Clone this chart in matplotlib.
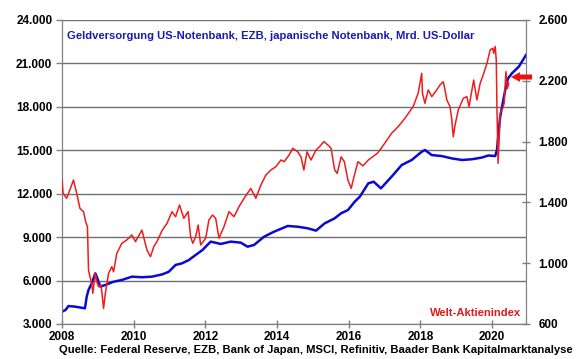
import matplotlib
matplotlib.use("Agg")
import matplotlib.pyplot as plt
from matplotlib.ticker import FuncFormatter

# Geldversorgung (Mrd. US-Dollar), linke Achse
money_x = [2008.0, 2008.1, 2008.18, 2008.36, 2008.64, 2008.69, 2008.74, 2008.83, 2008.93,
           2008.97, 2009.07, 2009.2, 2009.44, 2009.67, 2009.95, 2010.23, 2010.51, 2010.8,
           2010.98, 2011.17, 2011.35, 2011.54, 2011.73, 2011.92, 2012.15, 2012.43, 2012.71,
           2012.99, 2013.18, 2013.36, 2013.64, 2013.92, 2014.3, 2014.58, 2014.86, 2015.09,
           2015.33, 2015.61, 2015.79, 2015.98, 2016.17, 2016.31, 2016.55, 2016.7, 2016.9,
           2017.2, 2017.48, 2017.76, 2018.04, 2018.13, 2018.32, 2018.6, 2018.88, 2019.16,
           2019.44, 2019.72, 2019.9, 2020.09, 2020.14, 2020.19, 2020.23, 2020.3, 2020.37,
           2020.45, 2020.56, 2020.75, 2020.95]
money_y = [3850, 3970, 4240, 4200, 4085, 4890, 5350, 5810, 6500,
           6270, 5580, 5690, 5920, 6040, 6270, 6230, 6270, 6430,
           6610, 7080, 7190, 7420, 7770, 8110, 8690, 8530, 8690,
           8620, 8340, 8460, 9030, 9380, 9770, 9720, 9610, 9450,
           9950, 10300, 10650, 10870, 11450, 11790, 12720, 12830, 12370,
           13180, 13980, 14330, 14900, 15020, 14670, 14600, 14440, 14330,
           14380, 14500, 14640, 14600, 15020, 16400, 17320, 18240, 19160,
           19970, 20320, 20780, 21580]

# Welt-Aktienindex, rechte Achse
stock_x = [2008.0, 2008.03, 2008.13, 2008.22, 2008.32, 2008.41, 2008.5, 2008.6, 2008.66,
           2008.71, 2008.74, 2008.78, 2008.83, 2008.86, 2008.93, 2008.97, 2009.02, 2009.09,
           2009.16, 2009.21, 2009.3, 2009.39, 2009.44, 2009.53, 2009.67, 2009.81, 2009.95,
           2010.05, 2010.23, 2010.37, 2010.47, 2010.56, 2010.65, 2010.8, 2010.93, 2011.07,
           2011.17, 2011.28, 2011.4, 2011.52, 2011.59, 2011.65, 2011.73, 2011.8, 2011.87,
           2012.01, 2012.1, 2012.2, 2012.29, 2012.38, 2012.52, 2012.66, 2012.8, 2012.94,
           2013.08, 2013.27, 2013.41, 2013.55, 2013.69, 2013.83, 2013.97, 2014.11, 2014.2,
           2014.34, 2014.44, 2014.58, 2014.67, 2014.75, 2014.84, 2014.95, 2015.09, 2015.19,
           2015.31, 2015.42, 2015.51, 2015.61, 2015.68, 2015.79, 2015.88, 2015.98, 2016.07,
           2016.15, 2016.26, 2016.4, 2016.55, 2016.8, 2016.91, 2017.2, 2017.38, 2017.57,
           2017.8, 2017.94, 2018.04, 2018.06, 2018.13, 2018.22, 2018.32, 2018.46, 2018.55,
           2018.64, 2018.69, 2018.74, 2018.83, 2018.88, 2018.92, 2018.97, 2019.06, 2019.2,
           2019.3, 2019.36, 2019.49, 2019.58, 2019.67, 2019.77, 2019.86, 2019.95, 2020.02,
           2020.05, 2020.09, 2020.12, 2020.14, 2020.17, 2020.2, 2020.23, 2020.3, 2020.34,
           2020.39, 2020.43, 2020.47]
stock_y = [1547, 1460, 1427, 1482, 1547, 1460, 1361, 1339, 1273,
           1240, 955, 911, 867, 802, 934, 878, 845, 857,
           703, 802, 934, 977, 944, 1065, 1131, 1153, 1186,
           1142, 1218, 1087, 1043, 1108, 1142, 1218, 1262, 1339,
           1306, 1383, 1295, 1339, 1174, 1131, 1174, 1251, 1120,
           1164, 1284, 1317, 1295, 1164, 1240, 1339, 1306, 1372,
           1427, 1492, 1427, 1514, 1580, 1613, 1635, 1679, 1668,
           1712, 1756, 1733, 1700, 1613, 1733, 1679, 1745, 1767,
           1800, 1778, 1756, 1613, 1591, 1700, 1668, 1547, 1492,
           1569, 1668, 1640, 1679, 1723, 1756, 1855, 1898, 1953,
           2030, 2118, 2249, 2118, 2052, 2140, 2096, 2140, 2173,
           2194, 2140, 2074, 2030, 1942, 1832, 1909, 2008, 2085,
           2096, 2030, 2205, 2074, 2183, 2249, 2315, 2403, 2414,
           2381, 2426, 2337, 2008, 1657, 1811, 1986, 2019, 2052,
           2260, 2150, 2183]

left_ticks = [3000, 6000, 9000, 12000, 15000, 18000, 21000, 24000]
right_ticks = [600, 1000, 1400, 1800, 2200, 2600]
year_ticks = [2008, 2010, 2012, 2014, 2016, 2018, 2020]

plt.rcParams['font.family'] = ['Liberation Sans', 'DejaVu Sans']
plt.rcParams['font.weight'] = 'bold'


def de_fmt(v, pos):
    return f"{v:,.0f}".replace(",", ".")


fig = plt.figure(figsize=(5.8, 3.59), dpi=100)
ax = fig.add_axes([62 / 580, 35 / 359, 464 / 580, 304 / 359])
ax2 = ax.twinx()

ax.set_xlim(2008, 2020.95)
ax.set_ylim(3000, 24000)
ax2.set_ylim(600, 2600)

ax.set_yticks(left_ticks)
ax2.set_yticks(right_ticks)
ax.set_xticks(year_ticks)
ax.yaxis.set_major_formatter(FuncFormatter(de_fmt))
ax2.yaxis.set_major_formatter(FuncFormatter(de_fmt))

ax.grid(axis='y', color='#707070', linewidth=1.0)
ax.set_axisbelow(True)

for a in (ax, ax2):
    for s in a.spines.values():
        s.set_color('#808080')
    a.spines['top'].set_visible(False)
ax.tick_params(axis='both', labelsize=8.5, color='#808080', length=4, width=1)
ax.tick_params(axis='y', pad=3)
ax.tick_params(axis='x', direction='inout', length=6, pad=2)
ax2.tick_params(axis='y', labelsize=8.5, color='#808080', length=6, width=1,
                direction='inout', pad=6)

ax.plot(money_x, money_y, color='#0a0ad2', linewidth=1.8, zorder=3)
ax2.plot(stock_x, stock_y, color='#ee1c1c', linewidth=1.1, zorder=3)

ax.text(0.01, 0.965, "Geldversorgung US-Notenbank, EZB, japanische Notenbank, Mrd. US-Dollar",
        transform=ax.transAxes, color='#1a1ab4', fontsize=8.1, fontweight='bold',
        ha='left', va='top')
ax.text(0.99, 0.02, "Welt-Aktienindex", transform=ax.transAxes, color='#e01b1b',
        fontsize=8.1, fontweight='bold', ha='right', va='bottom')
fig.text(59 / 580, 4 / 359,
         "Quelle: Federal Reserve, EZB, Bank of Japan, MSCI, Refinitiv, Baader Bank Kapitalmarktanalyse",
         fontsize=8.1, fontweight='bold', ha='left', va='bottom')

ax2.annotate("", xy=(2020.53, 2225), xytext=(2021.12, 2225),
             arrowprops=dict(arrowstyle="simple,head_length=0.65,head_width=0.7,tail_width=0.36",
                             color='#ee1111', lw=0, shrinkA=0, shrinkB=0),
             annotation_clip=False, zorder=5)

fig.savefig("out.png", dpi=100)
